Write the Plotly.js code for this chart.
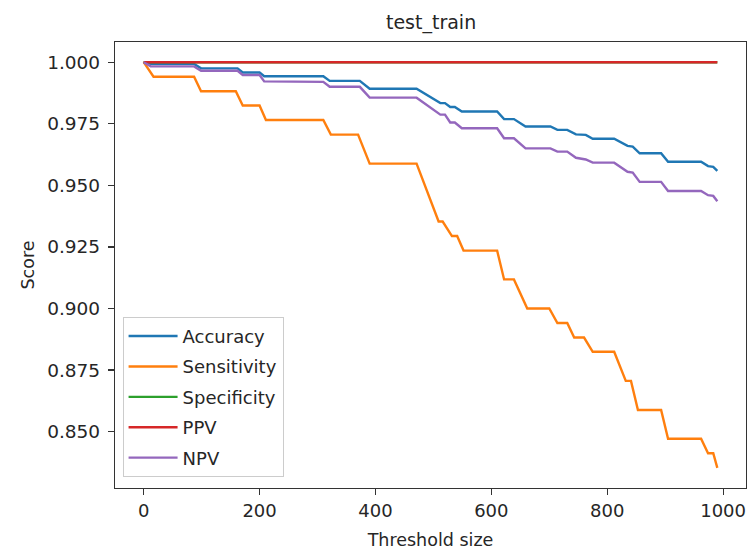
<!DOCTYPE html>
<html>
<head>
<meta charset="utf-8">
<script src="https://cdn.plot.ly/plotly-3.0.1.min.js"></script>
<style>html,body{margin:0;padding:0;background:#fff;}#chart{width:753px;height:554px;}</style>
</head>
<body>
<div id="chart"></div>
<script>
// Threshold size (x) and score (y) at the corners of each curve
const accX = [0, 12, 87, 99, 162, 171, 200, 208, 310, 321, 373, 390, 471, 503, 512, 520, 529, 537, 549, 610, 622, 639, 659, 702, 714, 731, 746, 763, 775, 812, 835, 844, 856, 893, 905, 962, 974, 983, 990];
const accY = [1.0000, 0.9993, 0.9993, 0.9975, 0.9975, 0.9958, 0.9958, 0.9943, 0.9943, 0.9924, 0.9924, 0.9892, 0.9892, 0.9845, 0.9834, 0.9834, 0.9818, 0.9818, 0.9800, 0.9800, 0.9769, 0.9769, 0.9739, 0.9739, 0.9725, 0.9725, 0.9707, 0.9705, 0.9689, 0.9689, 0.9660, 0.9657, 0.9630, 0.9630, 0.9596, 0.9596, 0.9578, 0.9575, 0.9559];

const senX = [0, 17, 87, 99, 159, 171, 200, 211, 310, 323, 370, 390, 471, 509, 516, 532, 541, 552, 610, 622, 639, 662, 700, 714, 731, 743, 760, 775, 812, 832, 841, 853, 893, 905, 962, 974, 983, 990];
const senY = [1.0000, 0.9941, 0.9941, 0.9882, 0.9882, 0.9824, 0.9824, 0.9765, 0.9765, 0.9706, 0.9706, 0.9588, 0.9588, 0.9353, 0.9353, 0.9294, 0.9294, 0.9235, 0.9235, 0.9118, 0.9118, 0.9000, 0.9000, 0.8941, 0.8941, 0.8882, 0.8882, 0.8824, 0.8824, 0.8706, 0.8706, 0.8588, 0.8588, 0.8471, 0.8471, 0.8412, 0.8412, 0.8353];

const speX = [0, 990];
const speY = [1.0, 1.0];

const ppvX = [0, 990];
const ppvY = [1.0, 1.0];

const npvX = [0, 12, 87, 99, 162, 171, 200, 208, 310, 321, 373, 390, 471, 503, 512, 520, 529, 537, 549, 610, 622, 639, 659, 702, 714, 731, 746, 763, 775, 812, 835, 844, 856, 893, 905, 962, 974, 983, 990];
const npvY = [1.0000, 0.9983, 0.9983, 0.9965, 0.9965, 0.9948, 0.9948, 0.9922, 0.9920, 0.9900, 0.9900, 0.9856, 0.9856, 0.9800, 0.9787, 0.9787, 0.9755, 0.9755, 0.9732, 0.9732, 0.9691, 0.9691, 0.9650, 0.9650, 0.9637, 0.9637, 0.9612, 0.9605, 0.9592, 0.9592, 0.9555, 0.9552, 0.9514, 0.9514, 0.9477, 0.9477, 0.9460, 0.9457, 0.9435];

const names = ['Accuracy', 'Sensitivity', 'Specificity', 'PPV', 'NPV'];
const colors = ['#1f77b4', '#ff7f0e', '#2ca02c', '#d62728', '#9467bd'];
const xs = [accX, senX, speX, ppvX, npvX];
const ys = [accY, senY, speY, ppvY, npvY];

const FONT = 'DejaVu Sans, sans-serif';
const traces = names.map((n, i) => ({
  type: 'scatter', mode: 'lines', name: n,
  x: xs[i], y: ys[i],
  legendgroup: 'g' + i,
  line: {color: colors[i], width: 2.4}
}));

const layout = {
  width: 753, height: 554,
  margin: {l: 115, r: 7, t: 42, b: 66},
  paper_bgcolor: '#fff', plot_bgcolor: '#fff',
  font: {family: FONT, size: 18.5, color: '#262626'},
  title: {text: 'test_train', font: {family: FONT, size: 19, color: '#262626'}, x: 0.5725, xanchor: 'center', y: 0.96, yanchor: 'middle'},
  xaxis: {
    range: [-49.5, 1039.5], tickvals: [0, 200, 400, 600, 800, 1000], ticktext: ['0', '200', '400', '600', '800', '1000'],
    showgrid: false, zeroline: false, showline: true, linecolor: '#333', linewidth: 1.2, mirror: true,
    ticks: 'outside', ticklen: 6, tickwidth: 1.2, tickcolor: '#333',
    tickfont: {family: FONT, size: 18},
    title: {text: 'Threshold size', font: {family: FONT, size: 17.5}, standoff: 14}
  },
  yaxis: {
    range: [0.8271, 1.0082], tickvals: [0.85, 0.875, 0.9, 0.925, 0.95, 0.975, 1.0], tickformat: '.3f',
    showgrid: false, zeroline: false, showline: true, linecolor: '#333', linewidth: 1.2, mirror: true,
    ticks: 'outside', ticklen: 6, tickwidth: 1.2, tickcolor: '#333',
    tickfont: {family: FONT, size: 18.5},
    ticklabelstandoff: 4,
    title: {text: 'Score', font: {family: FONT, size: 17.5}, standoff: 8}
  },
  showlegend: true,
  legend: {
    x: 0.012, y: 0.025, xanchor: 'left', yanchor: 'bottom',
    bgcolor: 'rgba(255,255,255,0.8)', bordercolor: '#cccccc', borderwidth: 1,
    font: {family: FONT, size: 18, color: '#262626'},
    itemwidth: 49,
    traceorder: 'grouped', tracegroupgap: 4
  }
};

Plotly.newPlot('chart', traces, layout, {displayModeBar: false, staticPlot: true});
</script>
</body>
</html>
